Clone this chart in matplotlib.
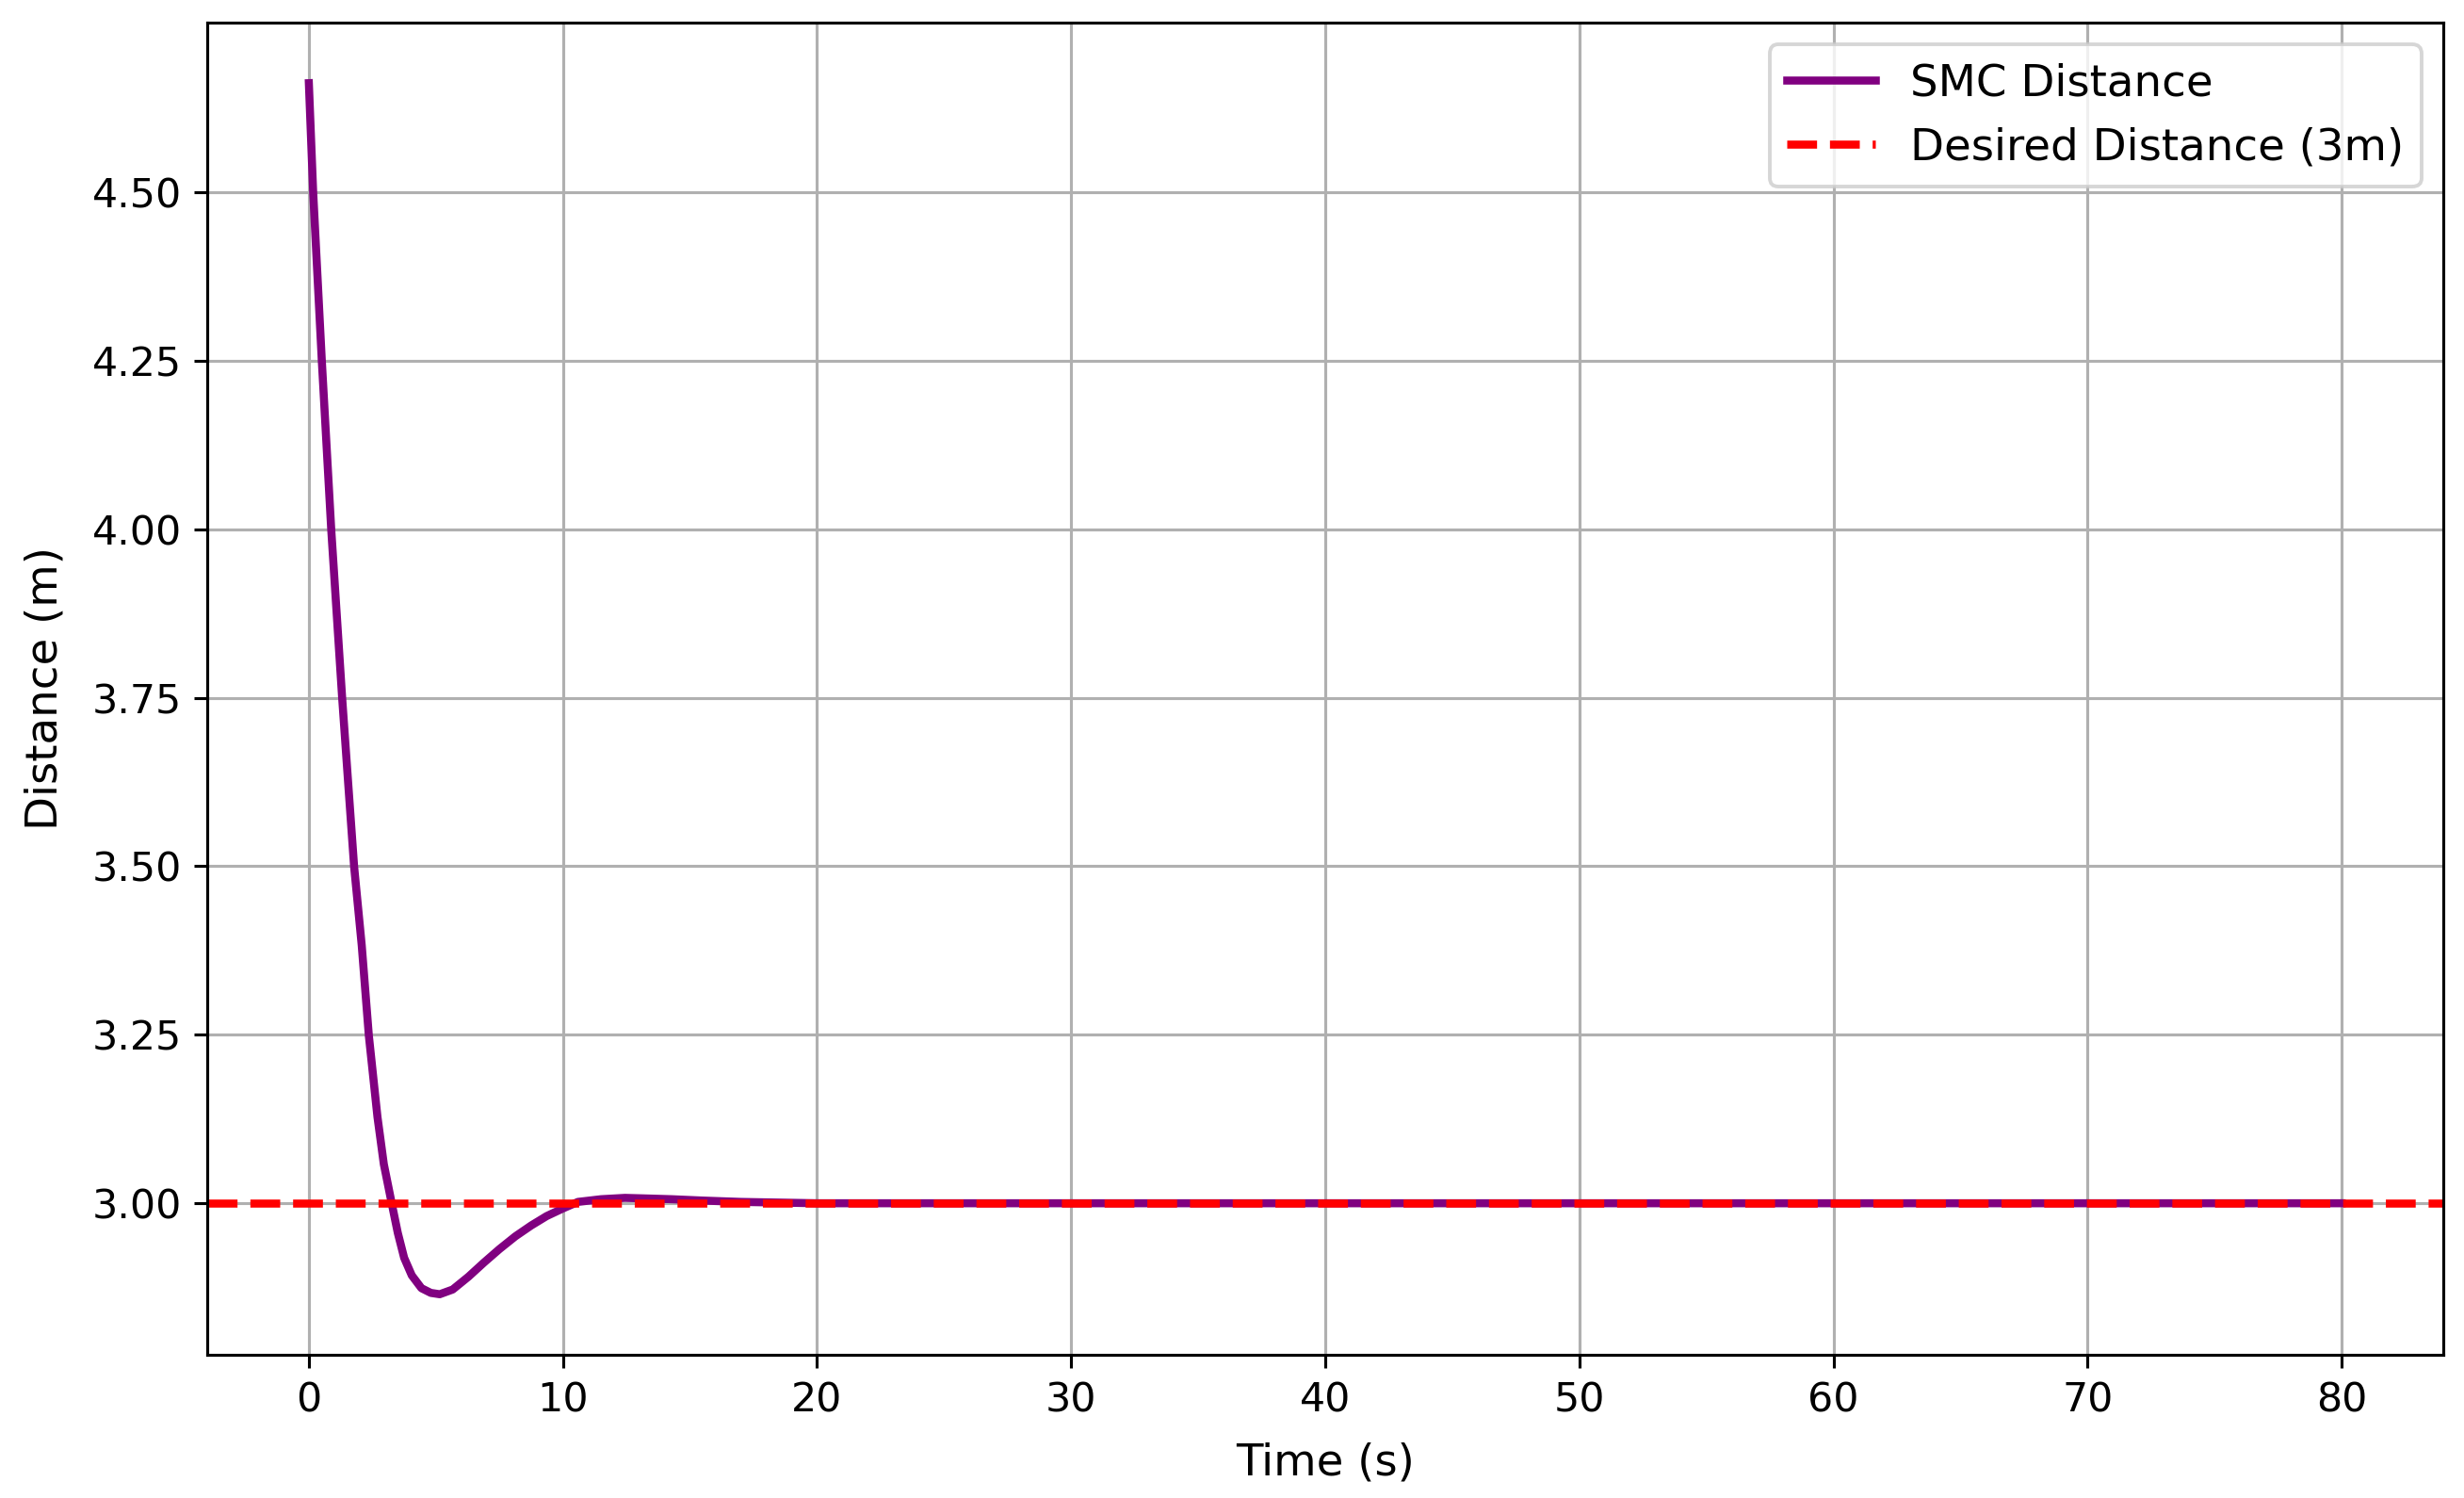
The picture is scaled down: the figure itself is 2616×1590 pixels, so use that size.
import matplotlib
matplotlib.use("Agg")
import matplotlib.pyplot as plt

# Data
time_s = [0.0, 0.17, 0.51, 0.88, 1.31, 1.55, 1.78, 2.08, 2.36, 2.70, 2.95, 3.26,
          3.50, 3.75, 4.05, 4.43, 4.80, 5.15, 5.66, 6.28, 6.89, 7.50, 8.13,
          8.75, 9.36, 9.98, 10.59, 11.50, 12.44, 13.40, 14.28, 15.50, 17.0,
          20.0, 30.0, 40.0, 50.0, 60.0, 70.0, 80.0]
distance_m = [4.662, 4.500, 4.250, 4.000, 3.750, 3.622, 3.500, 3.383, 3.249, 3.128,
              3.058, 3.000, 2.956, 2.919, 2.893, 2.874, 2.867, 2.865, 2.872,
              2.891, 2.912, 2.932, 2.951, 2.967, 2.981, 2.992, 3.002, 3.006,
              3.008, 3.007, 3.006, 3.004, 3.002, 3.000, 3.000, 3.000, 3.000,
              3.000, 3.000, 3.000]
desired_distance = 3.0

fig = plt.figure(figsize=(2616 / 280, 1590 / 280), dpi=280)
ax = fig.add_axes([0.0841, 0.0956, 0.9916 - 0.0841, 0.9849 - 0.0956])

ax.plot(time_s, distance_m, color="purple", linewidth=2.2, label="SMC Distance")
ax.axhline(desired_distance, color="red", linestyle="--", linewidth=2.2,
           label="Desired Distance (3m)")

ax.set_xlabel("Time (s)", fontsize=12, labelpad=6)
ax.set_ylabel("Distance (m)", fontsize=12, labelpad=7)
ax.set_yticks([3.00, 3.25, 3.50, 3.75, 4.00, 4.25, 4.50])
ax.set_yticklabels(["3.00", "3.25", "3.50", "3.75", "4.00", "4.25", "4.50"])
ax.tick_params(labelsize=11)
ax.grid(True)
ax.legend(loc="upper right", fontsize=12)

fig.savefig("out.png", dpi=280)
